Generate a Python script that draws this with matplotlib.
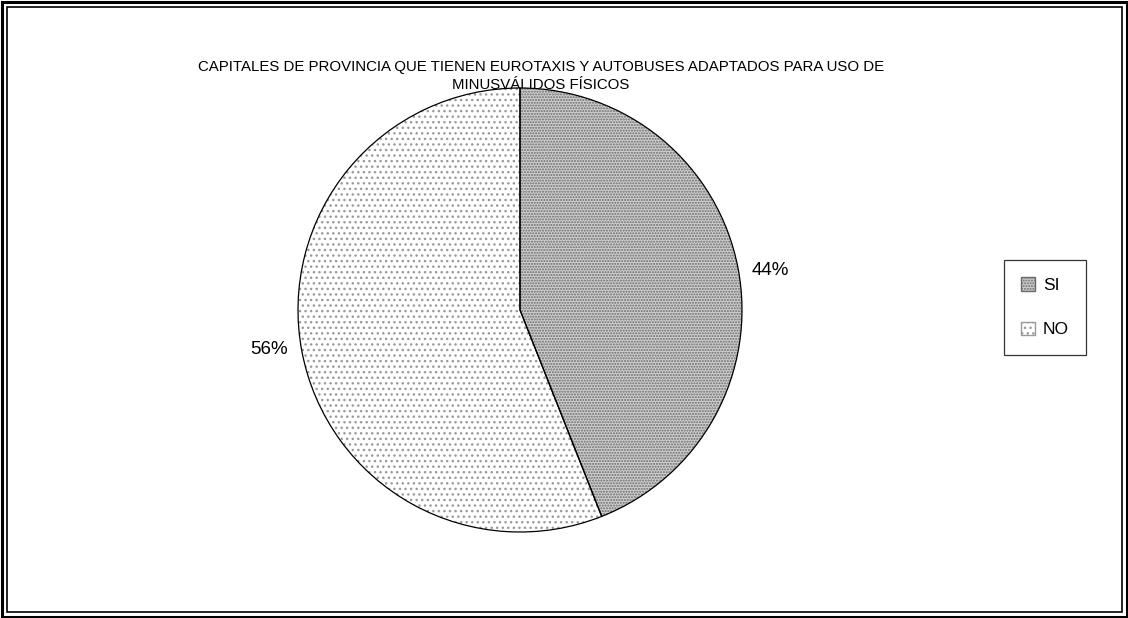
import matplotlib.pyplot as plt
from matplotlib.patches import Rectangle, Patch

labels = ['SI', 'NO']
values = [44, 56]
pct_labels = ['44%', '56%']
title = ('CAPITALES DE PROVINCIA QUE TIENEN EUROTAXIS Y AUTOBUSES ADAPTADOS PARA USO DE\n'
         'MINUSVÁLIDOS FÍSICOS')

plt.rcParams['font.family'] = ['Liberation Sans', 'DejaVu Sans']

fig = plt.figure(figsize=(11.28, 6.18), dpi=100)
W, H = 1128, 618

# double frame around the chart
fig.patches.append(Rectangle((1.5 / W, 1.5 / H), 1 - 3 / W, 1 - 3 / H, transform=fig.transFigure,
                             fill=False, edgecolor='black', linewidth=2.2))
fig.patches.append(Rectangle((6.5 / W, 6.5 / H), 1 - 13 / W, 1 - 13 / H, transform=fig.transFigure,
                             fill=False, edgecolor='black', linewidth=1.2))

# title sits under the pie (pie covers part of the second line)
fig.text(541 / W, 1 - 76 / H, title, ha='center', va='center', fontsize=10.8,
         linespacing=1.3, zorder=-1)

cx, cy, r = 520, 310, 222
ax = fig.add_axes([(cx - r) / W, (H - cy - r) / H, 2 * r / W, 2 * r / H])
ax.set_zorder(2)

fills = ['#cfcfcf', 'white']
hatches = ['......', '...']
hatch_cols = ['#6a6a6a', '#9a9a9a']

wedges, _ = ax.pie(values, startangle=90, counterclock=False, radius=1,
                   wedgeprops=dict(linewidth=0, facecolor='white'))
for w, fc, h, hc in zip(wedges, fills, hatches, hatch_cols):
    w.set_facecolor(fc)
    w.set_hatch(h)
    w.set_edgecolor(hc)

outline, texts = ax.pie(values, labels=pct_labels, startangle=90, counterclock=False,
                        radius=1, labeldistance=1.15,
                        wedgeprops=dict(fill=False, edgecolor='black', linewidth=0.9),
                        textprops=dict(fontsize=13.5))
for t, va in zip(texts, ['top', 'bottom']):
    t.set_ha('center')
    t.set_va(va)
ax.set_xlim(-1, 1)
ax.set_ylim(-1, 1)
ax.set_aspect('equal')
ax.axis('off')

handles = [Patch(facecolor=fc, hatch=h, edgecolor=hc) for fc, h, hc in zip(fills, hatches, hatch_cols)]
leg = fig.legend(handles, labels, loc='upper left',
                 bbox_to_anchor=(1004 / W, 1 - 260 / H), fontsize=12.5,
                 frameon=True, fancybox=False, handlelength=0.8, handleheight=0.8,
                 handletextpad=0.45, labelspacing=1.65, borderpad=1.0,
                 borderaxespad=0)
leg.get_frame().set_edgecolor('black')
leg.get_frame().set_linewidth(0.9)

fig.savefig('out.png', dpi=100)
